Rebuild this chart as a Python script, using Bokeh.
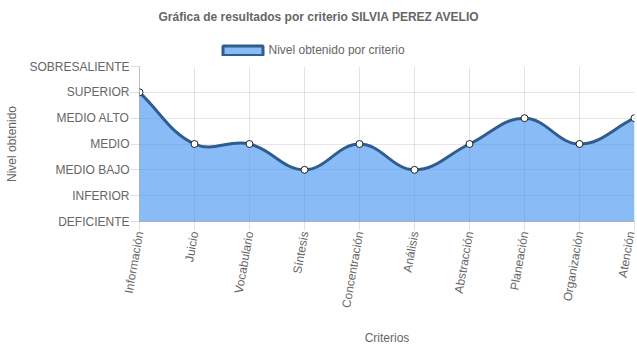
import numpy as np
from bokeh.plotting import figure
from bokeh.layouts import column
from bokeh.models import FixedTicker, Range1d, Label, BoxAnnotation
from bokeh.models import ColumnDataSource
from bokeh.embed import file_html
from bokeh.resources import INLINE

# ---- data ----
criterios = ["Información", "Juicio", "Vocabulario", "Síntesis", "Concentración",
             "Análisis", "Abstracción", "Planeación", "Organización", "Atención"]
niveles = ["DEFICIENTE", "INFERIOR", "MEDIO BAJO", "MEDIO", "MEDIO ALTO",
           "SUPERIOR", "SOBRESALIENTE"]
valores = [5, 3, 3, 2, 3, 2, 3, 4, 3, 4]
titulo = "Gráfica de resultados por criterio SILVIA PEREZ AVELIO"
serie = "Nivel obtenido por criterio"

# ---- layout ----
W, H = 637, 348
HH = 56                      # header (title + legend) height
ML, MR, MT, MB = 139, 3, 10, 127
FW, FH = W - ML - MR, H - HH - MT - MB
FONT = "Liberation Sans"
TXT = "#666666"
LINE = "#2f5d8f"
FILL = "#3b8ef0"
FILL_A = 0.6

n = len(criterios)
xs = np.arange(n, dtype=float)
ys = np.array(valores, dtype=float)
sx = FW / (n - 1)
sy = FH / (len(niveles) - 1)

# Chart.js-style spline control points (computed in pixel space)
px, py = xs * sx, ys * sy
tension = 0.4
cpx_p = np.zeros(n); cpy_p = np.zeros(n); cpx_n = np.zeros(n); cpy_n = np.zeros(n)
for i in range(n):
    a = max(i - 1, 0); b = min(i + 1, n - 1)
    d01 = np.hypot(px[i] - px[a], py[i] - py[a])
    d12 = np.hypot(px[b] - px[i], py[b] - py[i])
    s01 = d01 / (d01 + d12) if d01 + d12 else 0
    s12 = d12 / (d01 + d12) if d01 + d12 else 0
    fa, fb = tension * s01, tension * s12
    cpx_p[i] = px[i] - fa * (px[b] - px[a]); cpy_p[i] = py[i] - fa * (py[b] - py[a])
    cpx_n[i] = px[i] + fb * (px[b] - px[a]); cpy_n[i] = py[i] + fb * (py[b] - py[a])
cpx_p = np.clip(cpx_p, 0, FW) / sx; cpx_n = np.clip(cpx_n, 0, FW) / sx
cpy_p = np.clip(cpy_p, 0, FH) / sy; cpy_n = np.clip(cpy_n, 0, FH) / sy

bez = ColumnDataSource(dict(
    x0=xs[:-1], y0=ys[:-1], x1=xs[1:], y1=ys[1:],
    cx0=cpx_n[:-1], cy0=cpy_n[:-1], cx1=cpx_p[1:], cy1=cpy_p[1:]))

# sampled path for the filled area
t = np.linspace(0, 1, 30)
ax, ay = [], []
for i in range(n - 1):
    P = [(xs[i], ys[i]), (cpx_n[i], cpy_n[i]), (cpx_p[i + 1], cpy_p[i + 1]), (xs[i + 1], ys[i + 1])]
    bx = ((1 - t) ** 3) * P[0][0] + 3 * ((1 - t) ** 2) * t * P[1][0] + 3 * (1 - t) * t ** 2 * P[2][0] + t ** 3 * P[3][0]
    by = ((1 - t) ** 3) * P[0][1] + 3 * ((1 - t) ** 2) * t * P[1][1] + 3 * (1 - t) * t ** 2 * P[2][1] + t ** 3 * P[3][1]
    ax.extend(bx); ay.extend(by)

# ---- header: title + legend (frame is aligned with main frame: starts at x=ML) ----
hdr = figure(width=W, height=HH, x_range=Range1d(0, 1), y_range=Range1d(0, 1),
             output_backend="svg", toolbar_location=None,
             x_axis_location=None, y_axis_location=None,
             min_border=0, min_border_left=0, min_border_right=0,
             min_border_top=0, min_border_bottom=0)
hdr.outline_line_color = None
hdr.grid.visible = False
hdr.add_layout(Label(x=W / 2 - ML, y=HH - 16.5, x_units="screen", y_units="screen",
                     text=titulo, text_align="center", text_baseline="middle",
                     text_font=FONT, text_font_size="12px", text_font_style="bold",
                     text_color=TXT))
LEG_X = 222 - ML
hdr.add_layout(BoxAnnotation(left=LEG_X + 0.5, right=LEG_X + 40.5, bottom=1, top=10.5,
                             left_units="screen", right_units="screen",
                             bottom_units="screen", top_units="screen",
                             fill_color=FILL, fill_alpha=FILL_A,
                             line_color=LINE, line_width=3, line_alpha=1))
hdr.add_layout(Label(x=LEG_X + 46, y=HH - 49.5, x_units="screen", y_units="screen",
                     text=serie, text_align="left", text_baseline="middle",
                     text_font=FONT, text_font_size="12px", text_color=TXT))

# ---- main chart ----
p = figure(width=W, height=H - HH, x_range=Range1d(0, n - 1), y_range=Range1d(0, len(niveles) - 1),
           output_backend="svg", toolbar_location=None,
           min_border_left=ML, min_border_right=MR, min_border_top=MT, min_border_bottom=MB)
p.outline_line_color = None
p.background_fill_color = "white"

p.varea(x=ax, y1=0, y2=ay, fill_color=FILL, fill_alpha=FILL_A)
p.bezier(x0="x0", y0="y0", x1="x1", y1="y1", cx0="cx0", cy0="cy0", cx1="cx1", cy1="cy1",
         source=bez, line_color=LINE, line_width=3)
p.scatter(xs, ys, size=7, fill_color="white", line_color="#222222", line_width=1)

p.xaxis.ticker = FixedTicker(ticks=list(range(n)))
p.xaxis.major_label_overrides = {i: c for i, c in enumerate(criterios)}
p.xaxis.major_label_orientation = np.deg2rad(80)
p.yaxis.ticker = FixedTicker(ticks=list(range(len(niveles))))
p.yaxis.major_label_overrides = {i: c for i, c in enumerate(niveles)}
for ax_ in (p.xaxis, p.yaxis):
    ax_.major_label_text_font = FONT
    ax_.major_label_text_font_size = "12px"
    ax_.major_label_text_color = TXT
    ax_.axis_label_text_font = FONT
    ax_.axis_label_text_font_size = "12px"
    ax_.axis_label_text_font_style = "normal"
    ax_.axis_label_text_color = TXT
    ax_.major_tick_in = 0
    ax_.major_tick_out = 9
    ax_.major_tick_line_color = "black"
    ax_.major_tick_line_alpha = 0.12
    ax_.minor_tick_line_color = None
    ax_.axis_line_color = "black"
    ax_.axis_line_alpha = 0.25
    ax_.major_label_standoff = 1
p.xaxis.axis_label = "Criterios"
p.yaxis.axis_label = "Nivel obtenido"
p.xaxis.axis_label_standoff = 18
p.yaxis.axis_label_standoff = 7
p.grid.grid_line_color = "black"
p.grid.grid_line_alpha = 0.1

layout = column(hdr, p, spacing=0)
open("out.html", "w").write(file_html(layout, INLINE))
